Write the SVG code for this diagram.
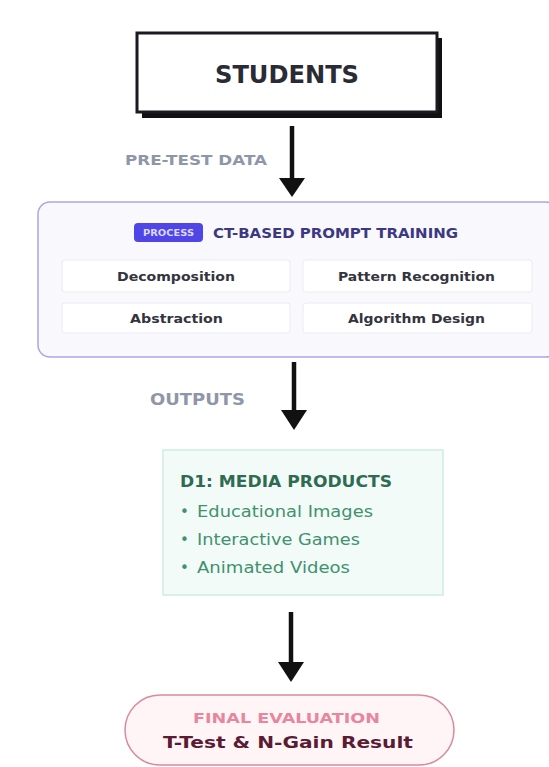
<svg xmlns="http://www.w3.org/2000/svg" width="549" height="767" viewBox="0 0 549 767">
<style>
  text { font-family: "DejaVu Sans", Inter, "Liberation Sans", Arial, sans-serif; }
  .arrow { stroke: #111; stroke-width: 4.5; fill: none; }
  .head { fill: #111; }
  .cell { fill: #ffffff; stroke: #ecebf3; stroke-width: 1; }
  .cellt { font-size: 13px; font-weight: 700; fill: #34343e; }
  .bullet { font-size: 15px; fill: #42916e; }
  .lbl { font-weight: 700; fill: #8f96a8; }
</style>
<rect x="0" y="0" width="549" height="767" fill="#ffffff"/>

<g id="connectors">
  <line class="arrow" x1="292" y1="126" x2="292" y2="180"/>
  <polygon class="head" points="279,178 305,178 292,197"/>
  <text class="lbl" x="125" y="165" font-size="13.5" fill="#9da3b2" textLength="142" lengthAdjust="spacingAndGlyphs">PRE-TEST DATA</text>

  <line class="arrow" x1="294" y1="362" x2="294" y2="412"/>
  <polygon class="head" points="281,410 307,410 294,430"/>
  <text class="lbl" x="150" y="405" font-size="16.5" textLength="95" lengthAdjust="spacingAndGlyphs">OUTPUTS</text>

  <line class="arrow" x1="291" y1="612" x2="291" y2="664"/>
  <polygon class="head" points="278,662 304,662 291,682"/>
</g>

<g id="students">
  <rect x="142" y="38" width="300" height="80" fill="#111"/>
  <rect x="137" y="33" width="300" height="79" fill="#ffffff" stroke="#1a1a22" stroke-width="3"/>
  <text x="215" y="83" font-size="24" font-weight="700" fill="#2b2b35" textLength="144" lengthAdjust="spacingAndGlyphs">STUDENTS</text>
</g>

<g id="process">
  <rect x="38" y="202" width="520" height="155" rx="12" fill="#f8f8fd" stroke="#aaa5e6" stroke-width="1.5"/>
  <rect x="134" y="223" width="69" height="19" rx="4" fill="#4f46e5"/>
  <text x="143" y="236" font-size="8" font-weight="700" fill="#dcd9ff" textLength="51" lengthAdjust="spacingAndGlyphs">PROCESS</text>
  <text x="213" y="238" font-size="13.5" font-weight="700" fill="#3d3882" textLength="245" lengthAdjust="spacingAndGlyphs">CT-BASED PROMPT TRAINING</text>
  <rect class="cell" x="62" y="260" width="228" height="32" rx="3"/>
  <rect class="cell" x="303" y="260" width="229" height="32" rx="3"/>
  <rect class="cell" x="62" y="303" width="228" height="30" rx="3"/>
  <rect class="cell" x="303" y="303" width="229" height="30" rx="3"/>
  <text class="cellt" x="117" y="281" textLength="118" lengthAdjust="spacingAndGlyphs">Decomposition</text>
  <text class="cellt" x="338" y="281" textLength="157" lengthAdjust="spacingAndGlyphs">Pattern Recognition</text>
  <text class="cellt" x="130" y="323" textLength="93" lengthAdjust="spacingAndGlyphs">Abstraction</text>
  <text class="cellt" x="348" y="323" textLength="137" lengthAdjust="spacingAndGlyphs">Algorithm Design</text>
</g>

<g id="media">
  <rect x="163" y="450" width="280" height="145" fill="#f2fbf8" stroke="#cdeee2" stroke-width="1.5"/>
  <text x="180" y="487" font-size="15" font-weight="700" fill="#2e6b52" textLength="212" lengthAdjust="spacingAndGlyphs">D1: MEDIA PRODUCTS</text>
  <text class="bullet" x="180" y="517">•</text>
  <text class="bullet" x="197" y="517" textLength="176" lengthAdjust="spacingAndGlyphs">Educational Images</text>
  <text class="bullet" x="180" y="545">•</text>
  <text class="bullet" x="197" y="545" textLength="163" lengthAdjust="spacingAndGlyphs">Interactive Games</text>
  <text class="bullet" x="180" y="573">•</text>
  <text class="bullet" x="197" y="573" textLength="153" lengthAdjust="spacingAndGlyphs">Animated Videos</text>
</g>

<g id="evaluation">
  <rect x="125" y="695" width="329" height="70" rx="35" fill="#fff5f7" stroke="#d98a9d" stroke-width="1.5"/>
  <text x="193" y="723" font-size="14" font-weight="700" fill="#e8869e" textLength="187" lengthAdjust="spacingAndGlyphs">FINAL EVALUATION</text>
  <text x="163" y="748" font-size="16" font-weight="700" fill="#5a1b33" textLength="250" lengthAdjust="spacingAndGlyphs">T-Test &amp; N-Gain Result</text>
</g>
</svg>
